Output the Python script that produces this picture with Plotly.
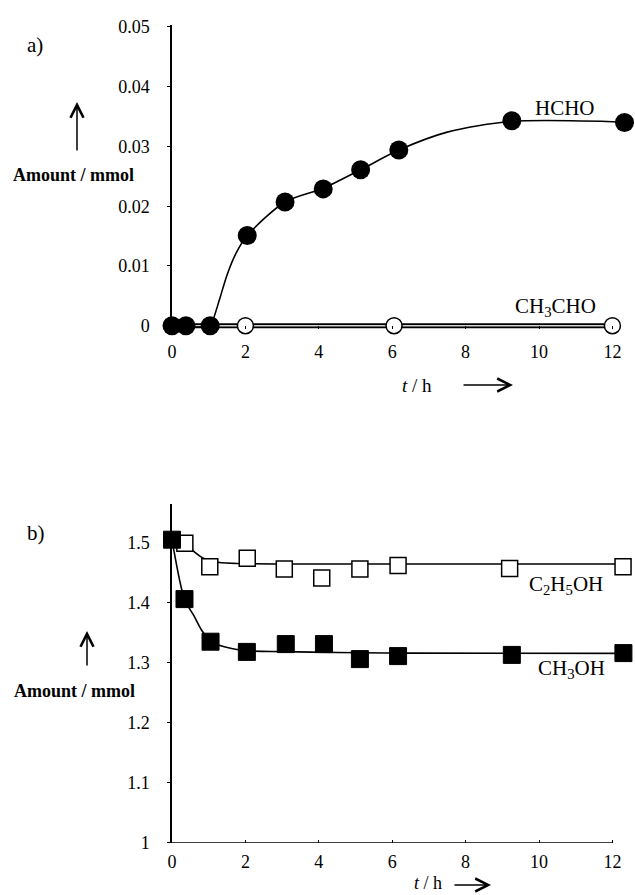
import plotly.graph_objects as go

# ---------------- data ----------------
# panel a)
hcho_t = [0, 0.38, 1.04, 2.05, 3.08, 4.12, 5.14, 6.18, 9.26, 12.33]
hcho = [0, 0, 0, 0.0151, 0.0207, 0.0229, 0.0261, 0.0294, 0.0343, 0.0340]
hcho_fit_t = [0, 1.04, 1.12, 1.3, 1.5, 1.75, 2.05, 3.08, 4.12, 5.14, 6.18, 7.5, 9.26, 12.33]
hcho_fit = [0, 0, 0.001, 0.0045, 0.0085, 0.0122, 0.0151, 0.0207, 0.0230, 0.0261, 0.0294, 0.0324, 0.0342, 0.0341]
ch3cho_t = [0, 0.38, 1.04, 2.0, 6.05, 12.0]
ch3cho = [0, 0, 0, 0, 0, 0]

# panel b)
ch3oh_t = [0, 0.34, 1.05, 2.04, 3.1, 4.14, 5.12, 6.16, 9.26, 12.3]
ch3oh = [1.505, 1.406, 1.335, 1.318, 1.331, 1.331, 1.306, 1.311, 1.313, 1.316]
ch3oh_fit_t = [0, 0.34, 0.6, 0.8, 1.05, 1.4, 2.04, 3.0, 4.5, 6.5, 12.3]
ch3oh_fit = [1.505, 1.406, 1.378, 1.355, 1.336, 1.327, 1.320, 1.3185, 1.317, 1.316, 1.3155]
c2h5oh_t = [0.35, 1.03, 2.05, 3.06, 4.08, 5.12, 6.16, 9.2, 12.29]
c2h5oh = [1.499, 1.460, 1.474, 1.456, 1.441, 1.456, 1.462, 1.457, 1.460]
c2h5oh_fit_t = [0.35, 0.6, 0.8, 1.03, 1.3, 2.05, 3.06, 12.29]
c2h5oh_fit = [1.499, 1.485, 1.476, 1.470, 1.467, 1.465, 1.4645, 1.4645]

# ticks
x_ticks = [0, 2, 4, 6, 8, 10, 12]
x_ticktext = ["0", "2", "4", "6", "8", "10", "12"]
ya_ticks = [0, 0.01, 0.02, 0.03, 0.04, 0.05]
ya_ticktext = ["0", "0.01", "0.02", "0.03", "0.04", "0.05"]
yb_ticks = [1, 1.1, 1.2, 1.3, 1.4, 1.5]
yb_ticktext = ["1", "1.1", "1.2", "1.3", "1.4", "1.5"]

W, H = 635, 895
FONT = "Liberation Serif"


def px(x):
    return x / W


def py(y):
    return 1 - y / H


fig = go.Figure()

# ---- panel a ----
fig.add_trace(go.Scatter(x=ch3cho_t, y=ch3cho, mode="lines",
                         line=dict(color="black", width=5), xaxis="x", yaxis="y",
                         hoverinfo="skip", showlegend=False))
fig.add_trace(go.Scatter(x=ch3cho_t, y=ch3cho, mode="lines",
                         line=dict(color="#cfcfcf", width=1.6), xaxis="x", yaxis="y",
                         hoverinfo="skip", showlegend=False))
fig.add_trace(go.Scatter(x=hcho_fit_t, y=hcho_fit, mode="lines",
                         line=dict(color="black", width=1.6, shape="spline", smoothing=0.8),
                         xaxis="x", yaxis="y", hoverinfo="skip", showlegend=False))
fig.add_trace(go.Scatter(x=ch3cho_t, y=ch3cho, mode="markers", name="CH3CHO",
                         marker=dict(symbol="circle", size=16, color="white",
                                     line=dict(color="black", width=1.5)),
                         cliponaxis=False, xaxis="x", yaxis="y", showlegend=False))
fig.add_trace(go.Scatter(x=hcho_t, y=hcho, mode="markers", name="HCHO",
                         marker=dict(symbol="circle", size=19, color="black",
                                     line=dict(width=0)),
                         cliponaxis=False, xaxis="x", yaxis="y", showlegend=False))

# ---- panel b ----
fig.add_trace(go.Scatter(x=c2h5oh_fit_t, y=c2h5oh_fit, mode="lines",
                         line=dict(color="black", width=1.6, shape="spline", smoothing=0.8),
                         xaxis="x2", yaxis="y2", hoverinfo="skip", showlegend=False))
fig.add_trace(go.Scatter(x=ch3oh_fit_t, y=ch3oh_fit, mode="lines",
                         line=dict(color="black", width=1.6, shape="spline", smoothing=0.8),
                         xaxis="x2", yaxis="y2", hoverinfo="skip", showlegend=False))
fig.add_trace(go.Scatter(x=c2h5oh_t, y=c2h5oh, mode="markers", name="C2H5OH",
                         marker=dict(symbol="square", size=16, color="white",
                                     line=dict(color="black", width=1.5)),
                         cliponaxis=False, xaxis="x2", yaxis="y2", showlegend=False))
fig.add_trace(go.Scatter(x=ch3oh_t, y=ch3oh, mode="markers", name="CH3OH",
                         marker=dict(symbol="square", size=17, color="black",
                                     line=dict(color="black", width=1)),
                         cliponaxis=False, xaxis="x2", yaxis="y2", showlegend=False))

x_dom = [px(172), px(172 + 12.5 * 36.7)]
tickfont = dict(family=FONT, size=18, color="black")

common_x = dict(range=[0, 12.5], domain=x_dom, showline=False, showgrid=False,
                zeroline=False, tickvals=x_ticks, ticktext=x_ticktext,
                ticks="inside", ticklen=3, tickwidth=1, tickcolor="black",
                tickfont=tickfont, fixedrange=True, automargin=False)
common_y = dict(showline=True, linecolor="black", linewidth=1.5, showgrid=False,
                zeroline=False, ticks="outside", ticklen=3, tickwidth=1,
                tickcolor="black", tickfont=tickfont, fixedrange=True, automargin=False)

fig.update_layout(
    template="none",
    width=W, height=H,
    autosize=False,
    margin=dict(l=0, r=0, t=0, b=0, pad=0, autoexpand=False),
    paper_bgcolor="white", plot_bgcolor="white",
    font=dict(family=FONT, color="black"),
    showlegend=False,
    xaxis=dict(**common_x, anchor="y", ticklabelstandoff=10),
    yaxis=dict(**common_y, anchor="x", range=[-0.0006, 0.0503],
               domain=[py(329.3), py(25.2)], tickvals=ya_ticks, ticktext=ya_ticktext,
               ticklabelstandoff=14),
    xaxis2=dict(**common_x, anchor="y2", ticklabelstandoff=6),
    yaxis2=dict(**common_y, anchor="x2", range=[1, 1.565],
                domain=[py(842.7), py(503.7)], tickvals=yb_ticks, ticktext=yb_ticktext,
                ticklabelstandoff=14),
)

# bottom x-axis line (ends at t = 12 like the original)
fig.add_shape(type="line", xref="x2", yref="y2", x0=0, x1=12, y0=1, y1=1,
              line=dict(color="black", width=1.5))


def text(x, y, s, size=19, bold=False, yanchor="middle"):
    fig.add_annotation(xref="paper", yref="paper", x=px(x), y=py(y), text=s,
                       showarrow=False, xanchor="center", yanchor=yanchor,
                       font=dict(family=FONT, size=size, color="black",
                                 weight="bold" if bold else "normal"))


def arrow(x0, y0, x1, y1):
    # tail (x0,y0) -> head (x1,y1), pixel coordinates
    fig.add_annotation(xref="paper", yref="paper", x=px(x1), y=py(y1), text="",
                       showarrow=True, ax=x0 - x1, ay=y0 - y1,
                       axref="pixel", ayref="pixel",
                       arrowhead=5, arrowsize=1.7, arrowwidth=1.5,
                       arrowcolor="black", standoff=0, startstandoff=0)


text(35, 45, "a)", 21)
text(36, 533, "b)", 21)
text(73.5, 175, "Amount / mmol", 18, bold=True)
text(74, 690.5, "Amount / mmol", 18, bold=True)
arrow(77, 152, 77, 102)
arrow(87, 667, 87, 631)

text(565, 108, "HCHO", 21)
text(555.5, 307, "CH<sub>3</sub>CHO", 21)
text(566, 585, "C<sub>2</sub>H<sub>5</sub>OH", 21)
text(571, 669, "CH<sub>3</sub>OH", 21)

text(417, 385, "<i>t</i> / h", 19)
arrow(462, 385, 513, 385)
text(427.5, 895, "<i>t</i> / h", 18, yanchor="bottom")
arrow(453, 885, 491, 885)

fig.write_html("out.html",
               config={"displayModeBar": False},
               post_script="document.body.style.margin='0px';document.body.style.padding='0px';")
